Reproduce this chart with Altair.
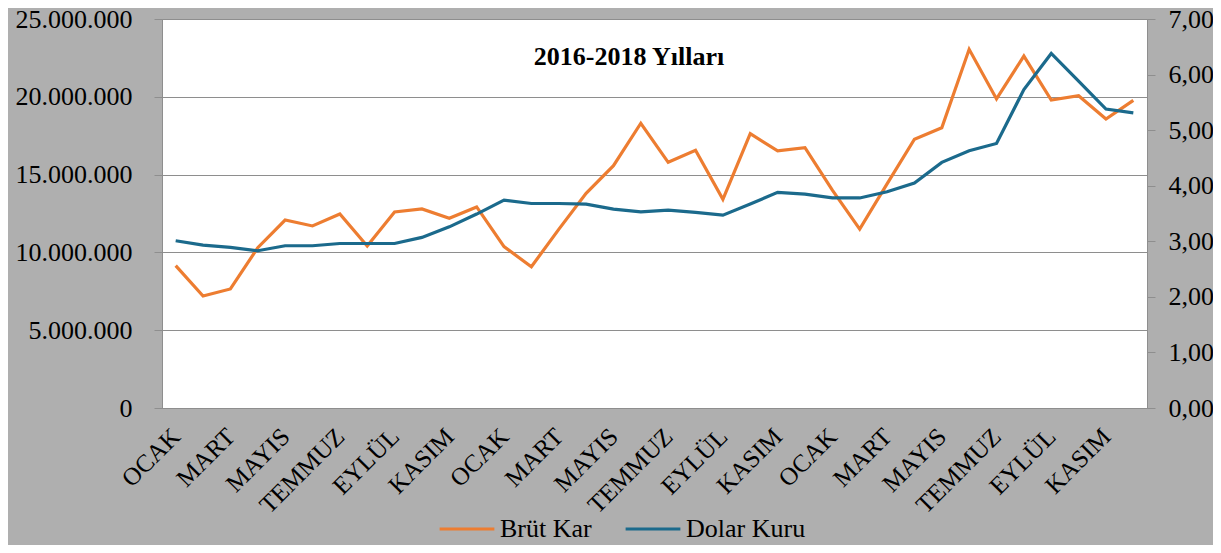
import json
import altair as alt
import pandas as pd

# ---- data ----
months = ["OCAK", "ŞUBAT", "MART", "NİSAN", "MAYIS", "HAZİRAN",
          "TEMMUZ", "AĞUSTOS", "EYLÜL", "EKİM", "KASIM", "ARALIK"]
period = list(range(36))  # Jan 2016 .. Dec 2018

brut_kar = [9150000, 7200000, 7650000, 10300000, 12080000, 11700000,
            12470000, 10410000, 12600000, 12790000, 12190000, 12920000,
            10370000, 9080000, 11480000, 13800000, 15570000, 18300000,
            15790000, 16560000, 13410000, 17630000, 16520000, 16730000,
            14000000, 11500000, 14400000, 17270000, 18010000, 23050000,
            19860000, 22620000, 19790000, 20070000, 18570000, 19770000]

dolar_kuru = [3.01, 2.93, 2.89, 2.83, 2.92, 2.92,
              2.96, 2.96, 2.96, 3.07, 3.26, 3.49,
              3.74, 3.68, 3.68, 3.67, 3.58, 3.53,
              3.56, 3.52, 3.47, 3.67, 3.88, 3.85,
              3.78, 3.78, 3.89, 4.05, 4.42, 4.63,
              4.76, 5.73, 6.38, 5.88, 5.38, 5.31]

series_names = ["Brüt Kar", "Dolar Kuru"]
series_colors = ["#ED7D31", "#1B6A8C"]
x_ticks = list(range(0, 36, 2))
left_ticks = [0, 5000000, 10000000, 15000000, 20000000, 25000000]
right_ticks = [0, 1, 2, 3, 4, 5, 6, 7]
title_text = "2016-2018 Yılları"

df_b = pd.DataFrame({"i": period, "brut": brut_kar, "series": series_names[0]})
df_d = pd.DataFrame({"i": period, "dolar": dolar_kuru, "series": series_names[1]})

FONT = "Liberation Serif"
FS = 26
GRID = "#8E8E8E"

month_expr = json.dumps(months, ensure_ascii=False) + "[datum.value % 12]"

color_scale = alt.Scale(domain=series_names, range=series_colors)
legend = alt.Legend(
    orient="none", legendX=276, legendY=481, direction="horizontal",
    title=None, symbolType="stroke", symbolSize=3000, symbolStrokeWidth=3.2,
    labelFont=FONT, labelFontSize=FS, labelColor="black",
    labelOffset=4, columnPadding=27, padding=0,
)

x_enc = alt.X(
    "i:Q",
    scale=alt.Scale(domain=[-0.5, 35.5], nice=False, zero=False),
    axis=alt.Axis(values=x_ticks, labelExpr=month_expr, labelAngle=-45,
                  labelAlign="right", labelBaseline="middle",
                  labelPadding=24, ticks=False, grid=False, title=None,
                  domainColor=GRID, labelFont=FONT, labelFontSize=FS - 1,
                  labelColor="black", labelOverlap=False),
)

left = alt.Chart(df_b).mark_line(strokeWidth=3.2).encode(
    x=x_enc,
    y=alt.Y("brut:Q",
            scale=alt.Scale(domain=[0, 25000000], nice=False),
            axis=alt.Axis(orient="left", values=left_ticks,
                          labelExpr="replace(replace(format(datum.value, ',d'), ',', '.'), ',', '.')",
                          grid=True, gridColor=GRID, gridWidth=1,
                          tickSize=8, tickColor=GRID, domainColor=GRID,
                          labelPadding=22, title=None,
                          labelFont=FONT, labelFontSize=FS, labelColor="black")),
    color=alt.Color("series:N", scale=color_scale, legend=legend),
)

right = alt.Chart(df_d).mark_line(strokeWidth=3.2).encode(
    x=x_enc,
    y=alt.Y("dolar:Q",
            scale=alt.Scale(domain=[0, 7], nice=False),
            axis=alt.Axis(orient="right", values=right_ticks,
                          labelExpr="replace(format(datum.value, '.2f'), '.', ',')",
                          grid=False, tickSize=8, tickColor=GRID,
                          domainColor=GRID, labelPadding=13, title=None,
                          labelFont=FONT, labelFontSize=FS, labelColor="black")),
    color=alt.Color("series:N", scale=color_scale, legend=legend),
)

title_layer = alt.Chart(pd.DataFrame({"t": [title_text]})).mark_text(
    font=FONT, fontSize=26, fontWeight="bold", color="black",
    align="center", baseline="middle",
).encode(text="t:N", x=alt.value(467), y=alt.value(38))

chart = (
    alt.layer(left, right, title_layer)
    .resolve_scale(y="independent")
    .properties(
        width=985,
        height=389,
        autosize=alt.AutoSizeParams(type="none"),
        padding={"left": 154, "top": 11, "right": 66, "bottom": 137},
        background="#AFAFAF",
    )
    .configure(font=FONT)
    .configure_view(fill="white", stroke=GRID, strokeWidth=1)
    .configure_legend(labelFont=FONT, labelFontSize=FS, labelColor="black")
)

chart.save("out.html", embed_options={"renderer": "svg", "actions": False})
